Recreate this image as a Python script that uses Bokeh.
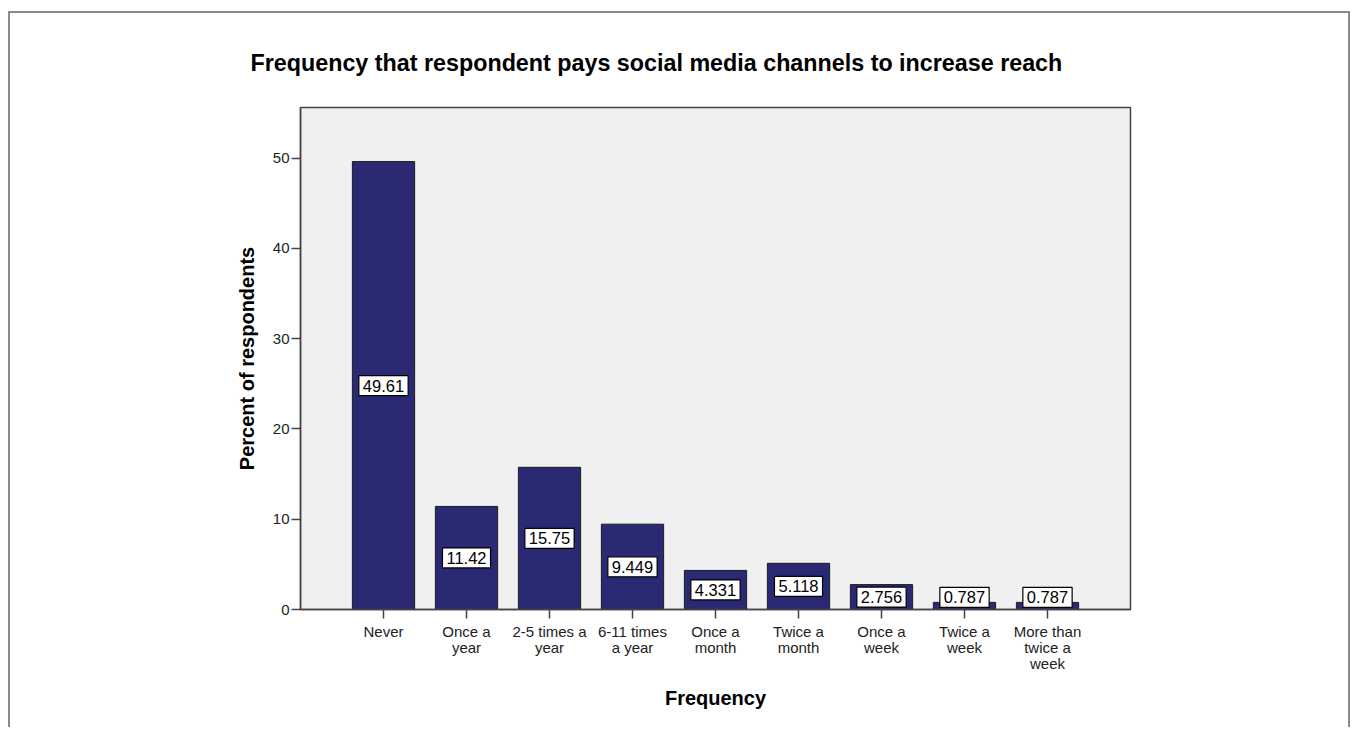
from bokeh.plotting import figure
from bokeh.models import ColumnDataSource, FixedTicker, Range1d
from bokeh.core.properties import value
from bokeh.embed import file_html
from bokeh.resources import INLINE

# ---- data ----
categories = ["Never", "Once a year", "2-5 times a year", "6-11 times a year",
              "Once a month", "Twice a month", "Once a week", "Twice a week",
              "More than twice a week"]
tick_labels = ["Never", "Once a\nyear", "2-5 times a\nyear", "6-11 times\na year",
               "Once a\nmonth", "Twice a\nmonth", "Once a\nweek", "Twice a\nweek",
               "More than\ntwice a\nweek"]
percents = [49.61, 11.42, 15.75, 9.449, 4.331, 5.118, 2.756, 0.787, 0.787]
y_ticks = [0, 10, 20, 30, 40, 50]

positions = list(range(1, len(categories) + 1))
label_y = [max(v / 2.0, 1.35) for v in percents]
label_text = [f"{v:.4g}" for v in percents]

FONT = "Liberation Sans"

src = ColumnDataSource(dict(x=positions, top=percents, ly=label_y, txt=label_text, cat=categories))

p = figure(width=1342, height=716,
           x_range=Range1d(0, 10), y_range=Range1d(0, 55.6),
           output_backend="svg", toolbar_location=None,
           min_border_left=290, min_border_right=222,
           min_border_top=94, min_border_bottom=120)
p.margin = (11, 0, 0, 8)
p.styles = {"border-left": "2px solid #8a8a8a", "border-top": "2px solid #8a8a8a",
            "border-right": "2px solid #8a8a8a"}

p.background_fill_color = "#f0f0f0"
p.border_fill_color = "white"
p.outline_line_color = "#444444"
p.outline_line_width = 1.5
p.xgrid.visible = False
p.ygrid.visible = False

p.vbar(x="x", top="top", width=0.75, source=src,
       fill_color="#2a2a74", line_color="#1c1c1c", line_width=1)

p.text(x="x", y="ly", text="txt", source=src,
       text_align="center", text_baseline="middle",
       text_font=value(FONT), text_font_size="16.5px", text_color="black",
       background_fill_color="white", border_line_color="black", border_line_width=1.2,
       padding=4)

# title
p.title.text = "Frequency that respondent pays social media channels to increase reach"
p.title.text_font = FONT
p.title.text_font_size = "23.3px"
p.title.text_font_style = "bold"
p.title.text_color = "black"
p.title.align = "left"
p.title.offset = -50
p.title.standoff = 63

# y axis
ya = p.yaxis[0]
ya.ticker = FixedTicker(ticks=y_ticks)
ya.minor_tick_line_color = None
ya.major_tick_in = 0
ya.major_tick_out = 9
ya.major_tick_line_color = "#444444"
ya.major_tick_line_width = 1.5
ya.axis_line_color = "#444444"
ya.axis_line_width = 1.5
ya.major_label_text_font = FONT
ya.major_label_text_font_size = "15px"
ya.major_label_text_color = "#222222"
ya.major_label_standoff = 2
ya.axis_label = "Percent of respondents"
ya.axis_label_text_font = FONT
ya.axis_label_text_font_size = "20px"
ya.axis_label_text_font_style = "bold"
ya.axis_label_text_color = "black"
ya.axis_label_standoff = 12

# x axis
xa = p.xaxis[0]
xa.ticker = FixedTicker(ticks=positions)
xa.major_label_overrides = {pos: lab for pos, lab in zip(positions, tick_labels)}
xa.minor_tick_line_color = None
xa.major_tick_in = 0
xa.major_tick_out = 9
xa.major_tick_line_color = "#444444"
xa.major_tick_line_width = 1.5
xa.axis_line_color = "#444444"
xa.axis_line_width = 1.5
xa.major_label_text_font = FONT
xa.major_label_text_font_size = "15px"
xa.major_label_text_color = "#222222"
xa.major_label_text_line_height = 0.95
xa.major_label_standoff = 4
xa.axis_label = "Frequency"
xa.axis_label_text_font = FONT
xa.axis_label_text_font_size = "20px"
xa.axis_label_text_font_style = "bold"
xa.axis_label_text_color = "black"
xa.axis_label_standoff = 12

open("out.html", "w").write(file_html(p, INLINE))
